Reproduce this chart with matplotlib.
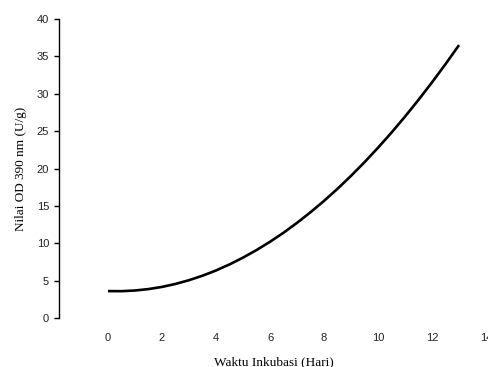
import matplotlib
matplotlib.use('Agg')
from matplotlib import pyplot as plt

# Nilai OD, every half day
days = [0, 0.5, 1, 1.5, 2, 2.5, 3, 3.5, 4, 4.5, 5, 5.5, 6, 6.5,
        7, 7.5, 8, 8.5, 9, 9.5, 10, 10.5, 11, 11.5, 12, 12.5, 13]
od = [3.60, 3.59, 3.68, 3.87, 4.16, 4.56, 5.06, 5.66, 6.36, 7.17, 8.08, 9.09,
      10.20, 11.41, 12.73, 14.15, 15.67, 17.29, 19.02, 20.85, 22.78, 24.81,
      26.95, 29.19, 31.53, 33.97, 36.51]

x_ticks = [0, 2, 4, 6, 8, 10, 12, 14]
y_ticks = [0, 5, 10, 15, 20, 25, 30, 35, 40]

fig = plt.figure(figsize=(4.89, 3.67), dpi=100)
ax = fig.add_axes([0.1207, 0.1335, 0.8793, 0.8147])

ax.plot(days, od, c='black', lw=1.9, solid_capstyle='butt')

ax.set_xlim(-1.815, 14.11)
ax.set_ylim(0, 40)
ax.set_xticks(x_ticks)
ax.set_yticks(y_ticks)

for side in ['top', 'right', 'bottom']:
    ax.spines[side].set_visible(False)
ax.spines['left'].set_linewidth(1.0)

ax.tick_params(axis='y', direction='out', length=3.6, width=1.0, pad=3.5,
               labelsize=8, labelcolor='#222222')
ax.tick_params(axis='x', length=0, pad=10.5, labelsize=8, labelcolor='#222222')
for lab in ax.get_xticklabels() + ax.get_yticklabels():
    lab.set_family('Liberation Sans')

ax.set_xlabel('Waktu Inkubasi (Hari)', family='Liberation Serif', fontsize=9.5)
ax.set_ylabel('Nilai OD 390 nm (U/g)', family='Liberation Serif', fontsize=9.5)
ax.xaxis.set_label_coords(0.5, -0.127)
ax.yaxis.set_label_coords(-0.074, 0.5)

fig.savefig('out.png', dpi=100)
